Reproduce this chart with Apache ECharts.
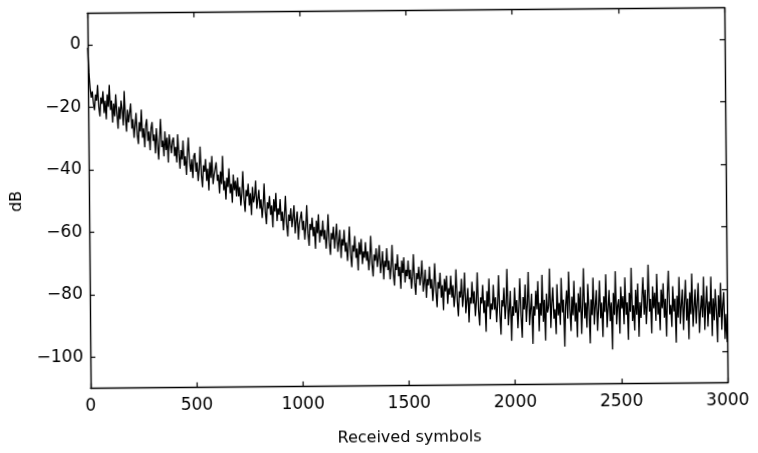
<!DOCTYPE html>
<html>
<head>
<meta charset="utf-8">
<script src="https://cdn.jsdelivr.net/npm/echarts@6/dist/echarts.min.js"></script>
<style>
html,body{margin:0;padding:0;background:#fff;overflow:hidden;}
#chart{width:758px;height:453px;transform:rotate(-0.5deg);transform-origin:407.5px 198px;}
</style>
</head>
<body>
<div id="chart"></div>
<script>
// Received symbol index step between samples
var symbolStep = 5;
// Learning curve (dB), every 5 received symbols
var dB = [
 -1, -9, -14, -17, -15, -19, -21, -16, -18, -13, -20, -23, -17, -19, -15, -22, -18, -24, -16, -20,
 -13, -21, -18, -25, -19, -23, -16, -22, -27, -20, -24, -18, -21, -26, -15, -23, -28, -21, -25, -22,
 -19, -27, -24, -30, -26, -22, -29, -32, -25, -28, -21, -30, -27, -33, -26, -24, -31, -28, -34, -27,
 -25, -31, -29, -35, -27, -32, -37, -30, -24, -33, -31, -36, -28, -34, -30, -38, -29, -32, -35, -31,
 -30, -36, -33, -38, -29, -35, -40, -34, -37, -31, -39, -36, -42, -35, -30, -38, -41, -37, -43, -36,
 -35, -41, -38, -44, -40, -33, -42, -46, -39, -41, -37, -44, -40, -47, -38, -43, -36, -45, -42, -40,
 -38, -44, -42, -48, -41, -45, -36, -47, -44, -50, -43, -46, -40, -48, -45, -51, -42, -47, -44, -49,
 -43, -49, -46, -52, -48, -41, -50, -54, -47, -49, -45, -52, -48, -55, -46, -51, -49, -44, -53, -50,
 -47, -53, -50, -56, -52, -45, -54, -58, -51, -53, -49, -55, -52, -59, -50, -54, -48, -57, -53, -55,
 -50, -57, -54, -60, -55, -49, -58, -62, -55, -57, -53, -59, -56, -52, -61, -57, -54, -63, -58, -56,
 -54, -60, -57, -63, -59, -52, -61, -65, -58, -60, -56, -62, -59, -66, -57, -61, -55, -64, -60, -62,
 -57, -63, -60, -66, -62, -55, -64, -68, -61, -63, -59, -66, -62, -58, -67, -64, -60, -69, -63, -65,
 -60, -67, -64, -70, -65, -59, -68, -72, -65, -67, -62, -69, -66, -73, -64, -68, -63, -71, -67, -69,
 -64, -70, -67, -73, -69, -62, -71, -75, -68, -70, -66, -72, -69, -65, -74, -71, -67, -76, -70, -72,
 -66, -73, -70, -76, -72, -65, -74, -78, -71, -73, -68, -75, -72, -79, -70, -74, -69, -77, -73, -75,
 -70, -76, -73, -79, -75, -68, -77, -81, -74, -76, -72, -78, -75, -70, -80, -77, -73, -82, -76, -78,
 -72, -79, -76, -83, -78, -71, -80, -85, -77, -79, -74, -82, -78, -86, -76, -80, -75, -84, -79, -81,
 -75, -82, -78, -85, -81, -73, -83, -88, -80, -82, -76, -85, -81, -74, -87, -83, -79, -90, -82, -84,
 -77, -84, -80, -88, -83, -74, -86, -91, -82, -84, -78, -87, -83, -93, -80, -85, -76, -89, -84, -86,
 -78, -86, -82, -90, -84, -75, -87, -94, -83, -85, -79, -89, -84, -73, -91, -86, -80, -96, -85, -88,
 -79, -87, -83, -92, -85, -76, -88, -95, -82, -86, -78, -90, -84, -74, -91, -86, -81, -97, -85, -88,
 -80, -86, -77, -93, -84, -88, -75, -90, -83, -96, -81, -87, -85, -73, -92, -84, -79, -89, -86, -94,
 -78, -88, -84, -91, -76, -87, -83, -98, -85, -80, -89, -74, -86, -93, -82, -88, -77, -90, -84, -95,
 -81, -87, -79, -94, -85, -73, -89, -84, -92, -78, -86, -97, -83, -88, -76, -91, -85, -80, -93, -86,
 -77, -89, -84, -95, -82, -87, -75, -92, -86, -80, -90, -84, -99, -81, -88, -74, -91, -85, -83, -94,
 -79, -86, -82, -91, -76, -88, -84, -96, -81, -87, -73, -90, -85, -93, -80, -88, -78, -95, -84, -89,
 -82, -76, -88, -80, -91, -84, -72, -87, -83, -94, -79, -86, -81, -90, -75, -88, -84, -93, -80, -86,
 -78, -89, -83, -95, -81, -74, -88, -85, -92, -79, -87, -83, -97, -82, -89, -76, -91, -85, -80, -93,
 -84, -77, -90, -83, -96, -81, -88, -75, -92, -86, -80, -91, -84, -78, -94, -87, -82, -89, -76, -93,
 -85, -79, -92, -84, -88, -76, -95, -83, -90, -80, -87, -97, -82, -89, -78, -93, -85, -81, -96, -88,
 -97
];
var xTicks = [0, 500, 1000, 1500, 2000, 2500, 3000];
var yTicks = [-100, -80, -60, -40, -20, 0];
var xTitle = 'Received symbols';
var yTitle = 'dB';

var points = dB.map(function (v, i) { return [i * symbolStep, v]; });

var FONT = '"DejaVu Sans", "Liberation Sans", Arial, sans-serif';
function minusFmt(v) { return v < 0 ? '\u2212' + Math.abs(v) : String(v); }

var chart = echarts.init(document.getElementById('chart'), null, {renderer: 'canvas'});
var axisLine = {show: true, onZero: false, lineStyle: {color: '#000', width: 1.4}};
var tick = function (vals) { return {show: true, inside: true, length: 5, customValues: vals, lineStyle: {color: '#000', width: 1.2}}; };
chart.setOption({
  animation: false,
  backgroundColor: '#fff',
  grid: {left: 89, right: 32, top: 10.5, bottom: 67.5, containLabel: false},
  xAxis: [{
    type: 'value', min: 0, max: 3000, position: 'bottom',
    axisLine: axisLine, axisTick: tick(xTicks),
    axisLabel: {customValues: xTicks, color: '#000', fontSize: 17, fontFamily: FONT, margin: 10, formatter: function (v) { return String(v); }},
    splitLine: {show: false},
    name: xTitle, nameLocation: 'middle', nameGap: 44,
    nameTextStyle: {color: '#000', fontSize: 16, fontFamily: FONT}
  }, {
    type: 'value', min: 0, max: 3000, position: 'top',
    axisLine: axisLine, axisTick: tick(xTicks),
    axisLabel: {show: false}, splitLine: {show: false}
  }],
  yAxis: [{
    type: 'value', min: -110, max: 10, position: 'left',
    axisLine: axisLine, axisTick: tick(yTicks),
    axisLabel: {customValues: yTicks, color: '#000', fontSize: 17, fontFamily: FONT, margin: 7, formatter: minusFmt},
    splitLine: {show: false},
    name: yTitle, nameLocation: 'middle', nameGap: 62, nameRotate: 90,
    nameTextStyle: {color: '#000', fontSize: 16, fontFamily: FONT}
  }, {
    type: 'value', min: -110, max: 10, position: 'right',
    axisLine: axisLine, axisTick: tick(yTicks),
    axisLabel: {show: false}, splitLine: {show: false}
  }],
  series: [{
    type: 'line', xAxisIndex: 0, yAxisIndex: 0,
    data: points, showSymbol: false, symbol: 'none',
    lineStyle: {color: '#000', width: 1.3}, clip: true
  }]
});
</script>
</body>
</html>
